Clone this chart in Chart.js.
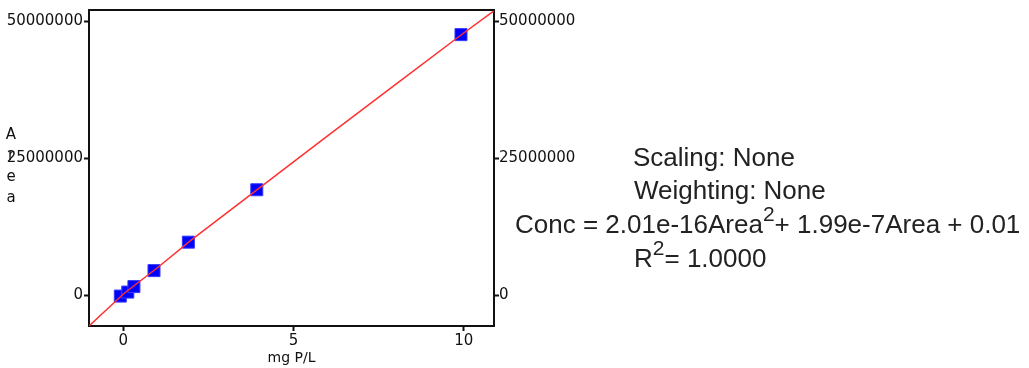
<!DOCTYPE html>
<html>
<head>
<meta charset="utf-8">
<script src="https://cdn.jsdelivr.net/npm/chart.js@4/dist/chart.umd.min.js"></script>
<style>
  html, body { margin: 0; padding: 0; background: #fff; }
  #wrap { position: relative; width: 1029px; height: 368px; overflow: hidden; }
  #c { position: absolute; left: 0; top: 0; }
  .ylab { position: absolute; left: 4px; top: 124px; width: 14px; text-align: center;
          font: 15px "DejaVu Sans", sans-serif; line-height: 21px; color: #111; }
  .eq { position: absolute; font: 26px "Liberation Sans", Arial, sans-serif; color: #222; white-space: nowrap; line-height: 1; }
  .eq sup { font-size: 21px; position: relative; top: -8px; vertical-align: top; }
</style>
</head>
<body>
<div id="wrap">
  <canvas id="c" width="1029" height="368"></canvas>
  <div class="ylab">A<br>r<br>e<br>a</div>
  <div class="eq" style="left:633px; top:144px;">Scaling: None</div>
  <div class="eq" style="left:634px; top:177px;">Weighting: None</div>
  <div class="eq" style="left:515px; top:211px;">Conc = 2.01e-16Area<sup>2</sup>+ 1.99e-7Area + 0.01</div>
  <div class="eq" style="left:634px; top:245px;">R<sup>2</sup>= 1.0000</div>
</div>
<script>
// Calibration points (concentration mg P/L vs Area)
const pointConc = [-0.09, 0.13, 0.31, 0.90, 1.91, 3.92, 9.92];
const pointArea = [-0.18e6, 0.55e6, 1.55e6, 4.47e6, 9.67e6, 19.25e6, 47.6e6];
// Fitted curve
const curveConc = [-1.0, 0, 1, 2, 4, 6, 8, 10, 10.9];
const curveArea = [-5.6e6, 0.2e6, 5.0e6, 10.1e6, 19.6e6, 29.1e6, 38.5e6, 47.9e6, 52.0e6];
// Tick values
const xTicks = [0, 5, 10];
const yTicks = [0, 25000000, 50000000];
const xRange = [-1.01, 10.89];
const yRange = [-5.65e6, 52.1e6];

const tickFont = { family: 'DejaVu Sans', size: 15 };
const framePlugin = {
  id: 'frame',
  afterDraw(chart) {
    const { ctx, chartArea: a } = chart;
    ctx.save();
    ctx.strokeStyle = '#111';
    ctx.lineWidth = 2;
    ctx.beginPath();
    ctx.moveTo(a.left, a.top);
    ctx.lineTo(a.right, a.top);
    ctx.stroke();
    ctx.restore();
  }
};
const bg = {
  id: 'bg',
  beforeDraw(chart) {
    const { ctx } = chart;
    ctx.save(); ctx.fillStyle = '#fff'; ctx.fillRect(0, 0, chart.width, chart.height); ctx.restore();
  }
};

const yAxisCommon = (pos, w) => ({
  type: 'linear',
  position: pos,
  min: yRange[0], max: yRange[1],
  afterBuildTicks: s => { s.ticks = yTicks.map(v => ({ value: v })); },
  afterFit: s => { s.width = w; },
  grid: { display: true, drawOnChartArea: false, drawTicks: true, tickLength: 5, color: '#111', tickWidth: 2 },
  border: { display: true, color: '#111', width: 2 },
  ticks: { font: tickFont, color: '#111', padding: pos === 'left' ? 1 : 0, callback: v => String(v) }
});

new Chart(document.getElementById('c'), {
  type: 'scatter',
  data: {
    datasets: [
      {
        type: 'line',
        data: curveConc.map((x, i) => ({ x, y: curveArea[i] })),
        borderColor: '#ff3030',
        borderWidth: 1.5,
        pointRadius: 0,
        fill: false,
        tension: 0,
        order: 0,
        yAxisID: 'y'
      },
      {
        data: pointConc.map((x, i) => ({ x, y: pointArea[i] })),
        pointStyle: 'rect',
        pointRadius: 8.5,
        backgroundColor: '#0000ff',
        borderColor: '#3a3aff',
        borderWidth: 1,
        order: 1,
        yAxisID: 'y'
      }
    ]
  },
  options: {
    responsive: false,
    devicePixelRatio: 1,
    animation: false,
    layout: { padding: { left: 0, top: 9, right: 445, bottom: 0 } },
    plugins: { legend: { display: false }, tooltip: { enabled: false } },
    scales: {
      x: {
        type: 'linear',
        position: 'bottom',
        min: xRange[0], max: xRange[1],
        afterBuildTicks: s => { s.ticks = xTicks.map(v => ({ value: v })); },
        afterFit: s => { s.height = 42; },
        grid: { display: true, drawOnChartArea: false, drawTicks: true, tickLength: 5, color: '#111', tickWidth: 2 },
        border: { display: true, color: '#111', width: 2 },
        ticks: { font: tickFont, color: '#111', padding: 1, maxRotation: 0 },
        title: { display: true, text: 'mg P/L', font: { family: 'DejaVu Sans', size: 14 }, color: '#111', padding: { top: 0, bottom: 1 } }
      },
      y: yAxisCommon('left', 89),
      y2: yAxisCommon('right', 90)
    }
  },
  plugins: [bg, framePlugin]
});
</script>
</body>
</html>
